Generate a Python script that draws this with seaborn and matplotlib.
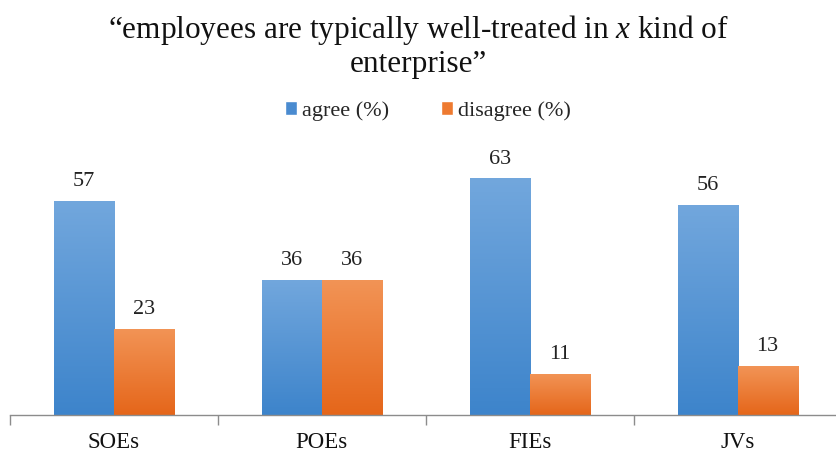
import numpy as np
import pandas as pd
import matplotlib
matplotlib.use("Agg")
import matplotlib.pyplot as plt
import seaborn as sns
from matplotlib.colors import LinearSegmentedColormap
from matplotlib.patches import Patch

categories = ["SOEs", "POEs", "FIEs", "JVs"]
series_names = ["agree (%)", "disagree (%)"]
agree = [57, 36, 63, 56]
disagree = [23, 36, 11, 13]
title_text = "\u201cemployees are typically well-treated in $x$ kind of\nenterprise\u201d"

df = pd.DataFrame({
    "category": categories * 2,
    "series": [series_names[0]] * len(categories) + [series_names[1]] * len(categories),
    "value": agree + disagree,
})

sns.set_theme(style="white")
plt.rcParams["font.family"] = ["Liberation Serif", "DejaVu Serif"]
plt.rcParams["mathtext.fontset"] = "custom"
plt.rcParams["mathtext.it"] = "Liberation Serif:italic"
plt.rcParams["mathtext.rm"] = "Liberation Serif"

fig = plt.figure(figsize=(8.36, 4.53), dpi=100)
ax = fig.add_axes([9.6 / 836, 38 / 453, 832 / 836, 263 / 453])

solid = {series_names[0]: "#4a8bd0", series_names[1]: "#ee7a30"}
sns.barplot(data=df, x="category", y="value", hue="series", order=categories,
            hue_order=series_names, palette=solid, width=0.577, ax=ax,
            legend=False, saturation=1)

grads = {
    series_names[0]: LinearSegmentedColormap.from_list("b", ["#3d84cb", "#72a7dd"]),
    series_names[1]: LinearSegmentedColormap.from_list("o", ["#e5661a", "#f29456"]),
}
grad = np.linspace(0, 1, 256).reshape(-1, 1)
for cont, name in zip(ax.containers, series_names):
    for p in cont.patches:
        x0, y0 = p.get_x(), p.get_y()
        w, h = p.get_width(), p.get_height()
        im = ax.imshow(grad, cmap=grads[name], origin="lower", aspect="auto",
                       extent=[x0, x0 + w, y0, y0 + h], zorder=2)
        im.set_clip_path(p)
        p.set_facecolor("none")
        p.set_edgecolor("none")
    ax.bar_label(cont, fmt="%d", padding=7, fontsize=16, color="#222222")

ax.set_xlim(-0.5, len(categories) - 0.5)
ax.set_ylim(0, 70)
ax.set_xlabel("")
ax.set_ylabel("")
ax.set_yticks([])
for s in ["left", "right", "top"]:
    ax.spines[s].set_visible(False)
ax.spines["bottom"].set_color("#8c8c8c")
ax.spines["bottom"].set_linewidth(1.0)
ax.set_xticks(np.arange(-0.5, len(categories)), minor=True)
ax.tick_params(axis="x", which="major", bottom=False, length=0, pad=12,
               labelsize=16.5, labelcolor="#111111")
ax.tick_params(axis="x", which="minor", bottom=True, length=7, width=1.0,
               color="#8c8c8c", direction="out")

fig.text(0.5, 0.825, title_text, ha="center", va="bottom", fontsize=22.5,
         color="#111111", linespacing=1.15)

handles = [Patch(facecolor="#4a8bd0"), Patch(facecolor="#ee7a30")]
fig.legend(handles, series_names, loc="center", bbox_to_anchor=(0.512, 0.755),
           ncol=2, frameon=False, fontsize=16, handlelength=0.55,
           handleheight=0.55, handletextpad=0.25, columnspacing=2.3)

fig.savefig("out.png", dpi=100)
